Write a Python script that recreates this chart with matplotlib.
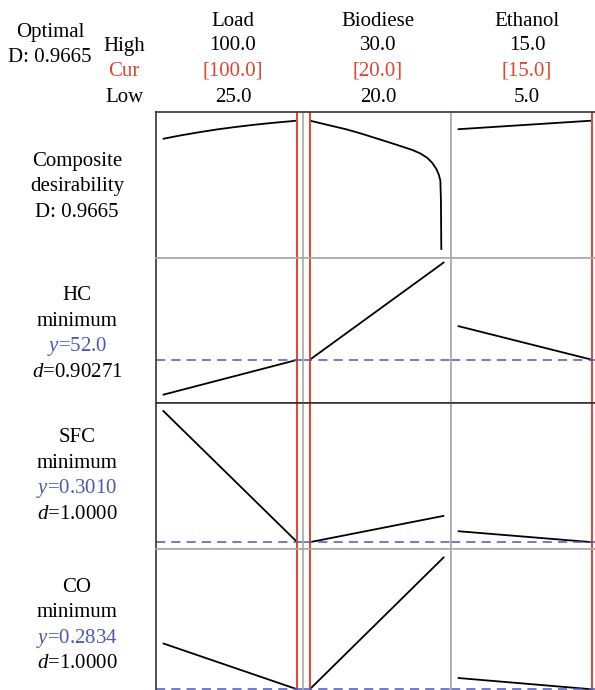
"""
Response optimizer panel: composite desirability plus the HC, SFC and CO
responses traced against Load, Biodiesel and Ethanol, with the optimal
setting marked in red and each response's optimum as a dashed blue line.
"""
import matplotlib

matplotlib.use("Agg")
import matplotlib.pyplot as plt  # noqa: E402

# ---- factor settings ----
FACTORS = ["Load", "Biodiese", "Ethanol"]
HIGH = [100.0, 30.0, 15.0]
LOW = [25.0, 20.0, 5.0]
CUR = [100.0, 20.0, 15.0]
D_COMPOSITE = 0.9665

# ---- composite desirability traces ----
COMP_LOAD_X = [25.0, 35.0, 45.0, 55.0, 65.0, 75.0, 85.0, 100.0]
COMP_LOAD_D = [0.830, 0.856, 0.879, 0.900, 0.918, 0.934, 0.948, 0.9665]
COMP_BIO_X = [20.0, 21.31, 22.70, 23.91, 25.17, 26.36, 27.63, 28.22, 28.74,
              29.11, 29.41, 29.60, 29.71, 29.75, 29.78]
COMP_BIO_D = [0.9665, 0.935, 0.902, 0.867, 0.827, 0.789, 0.747, 0.721, 0.688,
              0.650, 0.605, 0.561, 0.516, 0.374, 0.0]
COMP_ETH_X = [5.0, 15.0]
COMP_ETH_D = [0.902, 0.9665]

# ---- response traces (low -> high of each factor) ----
RESPONSES = ["HC", "SFC", "CO"]
GOALS = ["minimum", "minimum", "minimum"]
Y_OPT = [52.0, 0.3010, 0.2834]
Y_FMT = ["{:.1f}", "{:.4f}", "{:.4f}"]
D_IND = ["0.90271", "1.0000", "1.0000"]

HC_LOAD = [40.0, 52.0]
HC_BIO = [52.0, 85.5]
HC_ETH = [63.6, 52.0]
SFC_LOAD = [0.600, 0.3010]
SFC_BIO = [0.3010, 0.361]
SFC_ETH = [0.326, 0.3010]
CO_LOAD = [0.602, 0.2834]
CO_BIO = [0.2834, 1.200]
CO_ETH = [0.362, 0.2834]

YLIMS = [(-0.058, 1.031), (37.1, 87.0), (0.2858, 0.616), (0.249, 1.256)]

RED = "#e3432f"
BLUE = "#4b58b8"
GRAY = "#a9a9a9"
DARK = "#333333"
W, H = 595, 690

plt.rcParams["font.family"] = ["Liberation Serif", "DejaVu Serif"]
plt.rcParams["mathtext.fontset"] = "custom"
plt.rcParams["mathtext.it"] = "Liberation Serif:italic"
plt.rcParams["mathtext.rm"] = "Liberation Serif"


def px(x, y):
    """pixel (from top-left) -> figure fraction"""
    return x / W, 1 - y / H


def main():
    fig = plt.figure(figsize=(W / 100, H / 100), dpi=100)

    col_x = [156, 303, 451]
    col_w = 148
    row_y = [112, 257.7, 403.3, 548.7]
    row_h = 145.6

    traces = [
        [(COMP_LOAD_X, COMP_LOAD_D), (COMP_BIO_X, COMP_BIO_D), (COMP_ETH_X, COMP_ETH_D)],
        [(None, HC_LOAD), (None, HC_BIO), (None, HC_ETH)],
        [(None, SFC_LOAD), (None, SFC_BIO), (None, SFC_ETH)],
        [(None, CO_LOAD), (None, CO_BIO), (None, CO_ETH)],
    ]

    for r in range(4):
        for c in range(3):
            l, t = col_x[c], row_y[r]
            x0, y1 = px(l, t + row_h)
            ax = fig.add_axes([x0, y1, col_w / W, row_h / H])
            span = HIGH[c] - LOW[c]
            ax.set_xlim(LOW[c] - 0.05 * span, HIGH[c] + 0.05 * span)
            ax.set_ylim(*YLIMS[r])
            ax.set_xticks([])
            ax.set_yticks([])
            for s in ax.spines.values():
                s.set_color(GRAY)
                s.set_linewidth(1.2)
            if r == 0:
                ax.spines["top"].set_color(DARK)
            if r == 1:
                ax.spines["bottom"].set_color(DARK)
            if r == 2:
                ax.spines["top"].set_color(DARK)
            if c == 0:
                ax.spines["left"].set_color(DARK)

            xs, ys = traces[r][c]
            if xs is None:
                xs = [LOW[c], HIGH[c]]
            ax.plot(xs, ys, color="black", lw=1.3, solid_capstyle="butt",
                    solid_joinstyle="round")
            ax.axvline(CUR[c], color=RED, lw=1.4)
            if r > 0:
                ax.axhline(Y_OPT[r - 1], color=BLUE, lw=1.1, ls=(0, (6, 4)))

    fs = 15
    # header block
    fig.text(*px(50, 32), "Optimal", ha="center", va="center", fontsize=fs)
    fig.text(*px(50, 57), f"D: {D_COMPOSITE:.4f}", ha="center", va="center", fontsize=fs)
    fig.text(*px(124, 46), "High", ha="center", va="center", fontsize=fs)
    fig.text(*px(124, 71), "Cur", ha="center", va="center", fontsize=fs, color=RED)
    fig.text(*px(124, 97), "Low", ha="center", va="center", fontsize=fs)
    col_cx = [233, 378, 527]
    for c, name in enumerate(FACTORS):
        cx = col_cx[c]
        fig.text(*px(cx, 21), name, ha="center", va="center", fontsize=fs)
        fig.text(*px(cx, 46), f"{HIGH[c]:.1f}", ha="center", va="center", fontsize=fs)
        fig.text(*px(cx, 71), f"[{CUR[c]:.1f}]", ha="center", va="center",
                 fontsize=fs, color=RED)
        fig.text(*px(cx, 97), f"{LOW[c]:.1f}", ha="center", va="center", fontsize=fs)

    # row labels
    lx, gap = 77, 25.5
    for i, line in enumerate(["Composite", "desirability", f"D: {D_COMPOSITE:.4f}"]):
        fig.text(*px(lx, 161.5 + i * gap), line, ha="center", va="center", fontsize=fs)
    label_top = [296, 438, 587]
    for k, name in enumerate(RESPONSES):
        y0 = label_top[k]
        lines = [
            (name, "black"),
            (GOALS[k], "black"),
            ("$y$=" + Y_FMT[k].format(Y_OPT[k]), BLUE),
            ("$d$=" + D_IND[k], "black"),
        ]
        for i, (txt, col) in enumerate(lines):
            fig.text(*px(lx, y0 + i * gap), txt, ha="center", va="center",
                     fontsize=fs, color=col)

    fig.savefig("out.png", dpi=100)
    plt.close(fig)


if __name__ == "__main__":
    main()
